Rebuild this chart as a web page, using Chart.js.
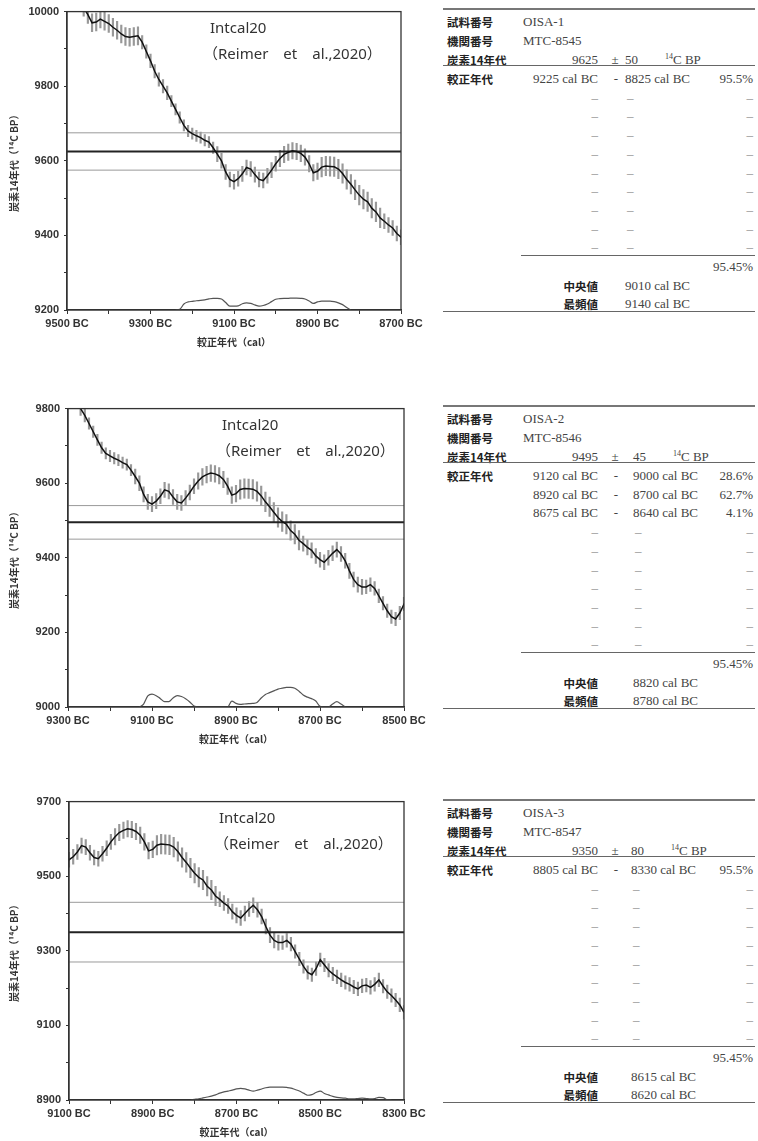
<!DOCTYPE html>
<html>
<head>
<meta charset="utf-8">
<script src="https://cdn.jsdelivr.net/npm/chart.js"></script>
<style>
html, body { margin: 0; padding: 0; background: #fff; }
body { width: 758px; height: 1141px; position: relative; overflow: hidden; }
canvas.plot { position: absolute; left: 0; }
.t { position: absolute; white-space: nowrap; line-height: 16px; height: 16px; }
.lab { font-family: 'Noto Sans CJK JP', sans-serif; font-weight: 700; font-size: 11.5px; color: #222; }
.val { font-family: 'Liberation Serif', 'Times New Roman', serif; font-size: 13px; color: #444; }
.dash { font-family: 'Liberation Serif', serif; font-size: 13px; color: #888; }
.val sup { font-size: 8px; vertical-align: 5px; line-height: 0; }
.rule { position: absolute; height: 0; }
</style>
</head>
<body>
<canvas id="c1" class="plot" width="430" height="352"></canvas>
<canvas id="c2" class="plot" width="430" height="352"></canvas>
<canvas id="c3" class="plot" width="430" height="352"></canvas>

<script>
// IntCal20 curve (cal BC, 14C BP, 1 sigma)
var curveYears = [
    9500, 9490, 9480, 9470, 9460, 9450, 9440, 9430, 9420, 9410,
    9400, 9390, 9380, 9370, 9360, 9350, 9340, 9330, 9320, 9310,
    9300, 9290, 9280, 9270, 9260, 9250, 9240, 9230, 9220, 9210,
    9200, 9190, 9180, 9170, 9160, 9150, 9140, 9130, 9120, 9110,
    9100, 9090, 9080, 9070, 9060, 9050, 9040, 9030, 9020, 9010,
    9000, 8990, 8980, 8970, 8960, 8950, 8940, 8930, 8920, 8910,
    8900, 8890, 8880, 8870, 8860, 8850, 8840, 8830, 8820, 8810,
    8800, 8790, 8780, 8770, 8760, 8750, 8740, 8730, 8720, 8710,
    8700, 8690, 8680, 8670, 8660, 8650, 8640, 8630, 8620, 8610,
    8600, 8590, 8580, 8570, 8560, 8550, 8540, 8530, 8520, 8510,
    8500, 8490, 8480, 8470, 8460, 8450, 8440, 8430, 8420, 8410,
    8400, 8390, 8380, 8370, 8360, 8350, 8340, 8330, 8320, 8310,
    8300
];
var curveC14 = [
    10070, 10055, 10040, 10025, 10010, 9992, 9970, 9972, 9980, 9974,
    9968, 9958, 9950, 9940, 9933, 9931, 9933, 9935, 9918, 9893,
    9868, 9840, 9818, 9800, 9782, 9760, 9738, 9716, 9695, 9680,
    9673, 9667, 9662, 9655, 9650, 9635, 9618, 9600, 9570, 9550,
    9544, 9552, 9565, 9582, 9578, 9563, 9550, 9547, 9560, 9575,
    9592, 9606, 9617, 9623, 9627, 9625, 9620, 9610, 9592, 9568,
    9572, 9583, 9586, 9585, 9584, 9578, 9566, 9550, 9537, 9522,
    9508, 9497, 9490, 9473, 9463, 9447, 9438, 9428, 9420, 9405,
    9395, 9388, 9400, 9412, 9422, 9410, 9392, 9365, 9342, 9328,
    9322, 9322, 9328, 9318, 9298, 9278, 9258, 9242, 9236, 9252,
    9276, 9262, 9248, 9238, 9230, 9222, 9215, 9210, 9203, 9198,
    9206, 9208, 9202, 9210, 9222, 9205, 9190, 9180, 9168, 9155,
    9135
];
var curveErr = [
    22, 22, 22, 22, 22, 24, 24, 24, 24, 24,
    24, 24, 24, 24, 24, 24, 24, 24, 18, 18,
    18, 18, 18, 18, 18, 15, 15, 15, 15, 15,
    15, 15, 15, 15, 15, 15, 20, 20, 20, 20,
    20, 20, 20, 20, 20, 20, 20, 20, 20, 20,
    20, 22, 22, 22, 22, 22, 22, 22, 22, 22,
    22, 26, 26, 26, 26, 26, 26, 26, 26, 26,
    26, 26, 26, 26, 26, 26, 20, 20, 20, 20,
    20, 20, 20, 20, 20, 20, 20, 20, 20, 20,
    20, 18, 18, 18, 18, 18, 18, 18, 18, 18,
    18, 18, 18, 18, 18, 18, 18, 18, 18, 18,
    18, 18, 18, 18, 18, 18, 18, 18, 18, 18,
    18
];

// calibrated probability per 10-year step (%)
var probYears1 = [
    9240, 9230, 9220, 9210, 9200, 9190, 9180, 9170, 9160, 9150,
    9140, 9130, 9120, 9110, 9100, 9090, 9080, 9070, 9060, 9050,
    9040, 9030, 9020, 9010, 9000, 8990, 8980, 8970, 8960, 8950,
    8940, 8930, 8920, 8910, 8900, 8890, 8880, 8870, 8860, 8850,
    8840, 8830, 8820
];
var probValues1 = [
    0, 0.2, 2.0, 2.7, 2.9, 3.1, 3.2, 3.4, 3.7, 3.9,
    3.9, 3.7, 2.5, 1.3, 1.3, 1.4, 2.1, 2.4, 2.2, 1.7,
    1.3, 1.5, 2.0, 2.8, 3.6, 3.8, 3.9, 3.9, 4.0, 4.0,
    3.9, 3.7, 3.0, 2.2, 2.7, 3.0, 3.0, 3.0, 2.8, 2.4,
    1.8, 0.8, 0
];
var probYears2 = [
    9130, 9120, 9110, 9100, 9090, 9080, 9070, 9060, 9050, 9040,
    9030, 9020, 9010, 9000, 8990, 8920, 8910, 8900, 8890, 8880,
    8870, 8860, 8850, 8840, 8830, 8820, 8810, 8800, 8790, 8780,
    8770, 8760, 8750, 8740, 8730, 8720, 8710, 8700, 8690, 8680,
    8670, 8660, 8650, 8640
];
var probValues2 = [
    0, 1.0, 3.7, 4.3, 3.8, 2.8, 1.8, 1.8, 3.0, 3.8,
    3.5, 2.8, 1.7, 0.3, 0, 0, 2.0, 1.2, 0.9, 1.0,
    1.1, 1.2, 1.5, 3.0, 4.2, 4.8, 5.4, 6.0, 6.3, 6.6,
    6.6, 6.3, 5.3, 4.0, 3.3, 2.8, 2.0, 0.2, 0, 0,
    1.0, 1.8, 1.0, 0
];
var probYears3 = [
    8810, 8800, 8790, 8780, 8770, 8760, 8750, 8740, 8730, 8720,
    8710, 8700, 8690, 8680, 8670, 8660, 8650, 8640, 8630, 8620,
    8610, 8600, 8590, 8580, 8570, 8560, 8550, 8540, 8530, 8520,
    8510, 8500, 8490, 8480, 8470, 8460, 8450, 8440, 8430, 8420,
    8410, 8400, 8390, 8380, 8370, 8360, 8350, 8340, 8330
];
var probValues3 = [
    0, 0.2, 0.4, 0.7, 1.0, 1.3, 1.7, 2.3, 2.7, 3.0,
    3.3, 3.7, 3.9, 3.7, 3.3, 3.0, 3.3, 3.7, 4.1, 4.3,
    4.3, 4.3, 4.3, 4.2, 4.0, 3.5, 3.0, 2.3, 1.6, 1.8,
    2.5, 3.0, 2.2, 1.7, 1.2, 0.9, 0.7, 0.6, 0.4, 0.4,
    0.5, 0.6, 0.5, 0.4, 0.5, 0.9, 0.8, 0.1, 0
];

// samples
var sampleIds = ['OISA-1', 'OISA-2', 'OISA-3'];
var labCodes = ['MTC-8545', 'MTC-8546', 'MTC-8547'];
var c14Ages = [9625, 9495, 9350];
var c14Errors = [50, 45, 80];
var calRanges = [
    [['9225', '8825', '95.5%']],
    [['9120', '9000', '28.6%'], ['8920', '8700', '62.7%'], ['8675', '8640', '4.1%']],
    [['8805', '8330', '95.5%']]
];
var totalProb = '95.45%';
var medians = ['9010', '8820', '8615'];
var modes = ['9140', '8780', '8620'];

// axis ranges
var xMins = [8700, 8500, 8300];
var xMaxs = [9500, 9300, 9100];
var yMins = [9200, 9000, 8900];
var yMaxs = [10000, 9800, 9700];

var noteTitle = 'Intcal20';
var noteRef = '（Reimer　et　al.,2020）';
var xTitle = '較正年代（cal）';
var yTitle = '炭素14年代（¹⁴C BP）';

// page layout of each panel
var layouts = [
    { top: 0,   plotLeft: 67, plotRight: 401, dx1: 143, dx2: 136, tableTop: 9,   colD: 625 },
    { top: 397, plotLeft: 68, plotRight: 404, dx1: 154, dx2: 148, tableTop: 406, colD: 633 },
    { top: 790, plotLeft: 69, plotRight: 404, dx1: 150, dx2: 145, tableTop: 800, colD: 631 }
];

Chart.defaults.font.family = "'Liberation Sans', Arial, sans-serif";
Chart.defaults.color = '#333';

var notePlugin = {
    id: 'note',
    afterDraw: function(chart, args, opts) {
        var ctx = chart.ctx, a = chart.chartArea;
        ctx.save();
        ctx.strokeStyle = '#333';
        ctx.lineWidth = 1.3;
        ctx.strokeRect(a.left, a.top, a.right - a.left, a.bottom - a.top);
        ctx.fillStyle = '#333';
        ctx.textBaseline = 'middle';
        ctx.font = "15px 'Noto Sans', 'Noto Sans CJK JP', sans-serif";
        ctx.fillText(noteTitle, a.left + opts.dx1, a.top + 17);
        ctx.fillText(noteRef, a.left + opts.dx2, a.top + 43);
        ctx.restore();
    }
};

function makeChart(k) {
    var L = layouts[k];
    var canvas = document.getElementById('c' + (k + 1));
    canvas.style.top = L.top + 'px';
    var xMin = xMins[k], xMax = xMaxs[k], yMin = yMins[k], yMax = yMaxs[k];
    var age = c14Ages[k], err = c14Errors[k];
    var pYears = [probYears1, probYears2, probYears3][k];
    var pVals = [probValues1, probValues2, probValues3][k];

    var curve = curveYears.map(function(yr, i) { return { x: yr, y: curveC14[i] }; });
    var bars = curveYears.map(function(yr, i) {
        return { x: yr, y: [curveC14[i] - curveErr[i], curveC14[i] + curveErr[i]] };
    });
    var prob = pYears.map(function(yr, i) { return { x: yr, y: pVals[i] }; });
    function hline(v) { return [{ x: xMin, y: v }, { x: xMax, y: v }]; }

    var titleFont = { family: "'Noto Sans CJK JP', sans-serif", size: 10, weight: 'bold' };
    var tickFont = { size: 11, weight: 'bold' };

    return new Chart(canvas, {
        type: 'line',
        data: {
            datasets: [
                { type: 'bar', data: bars, backgroundColor: 'rgba(50,50,50,0.5)', barThickness: 1.5, order: 6 },
                { data: curve, borderColor: '#111', borderWidth: 1.5, pointRadius: 0, order: 1 },
                { data: hline(age + err), borderColor: '#9a9a9a', borderWidth: 1, pointRadius: 0, order: 4 },
                { data: hline(age - err), borderColor: '#9a9a9a', borderWidth: 1, pointRadius: 0, order: 4 },
                { data: hline(age), borderColor: '#222', borderWidth: 2, pointRadius: 0, order: 2 },
                { data: prob, yAxisID: 'yp', borderColor: '#555', borderWidth: 1.2, pointRadius: 0,
                  cubicInterpolationMode: 'monotone', order: 3 }
            ]
        },
        options: {
            responsive: false,
            animation: false,
            layout: { padding: { top: 9, right: 430 - L.plotRight, left: 4, bottom: 0 } },
            plugins: {
                legend: { display: false },
                tooltip: { enabled: false },
                note: { dx1: L.dx1, dx2: L.dx2 }
            },
            scales: {
                x: {
                    type: 'linear',
                    reverse: true,
                    offset: false,
                    min: xMin,
                    max: xMax,
                    afterFit: function(s) { s.height = 42; },
                    ticks: {
                        stepSize: 100, autoSkip: false, maxRotation: 0, padding: 3,
                        color: '#333', font: tickFont,
                        callback: function(v) { return (v - xMin) % 200 === 0 ? v + ' BC' : ''; }
                    },
                    grid: { offset: false, drawOnChartArea: false, tickLength: 4, color: '#333' },
                    border: { color: '#333', width: 1.3 },
                    title: { display: true, text: xTitle, color: '#333', font: titleFont, padding: { top: 0, bottom: 4 } }
                },
                y: {
                    min: yMin,
                    max: yMax,
                    afterFit: function(s) { s.width = L.plotLeft - 4; },
                    ticks: {
                        stepSize: 100, autoSkip: false, padding: 5,
                        color: '#333', font: tickFont,
                        callback: function(v) { return (v - yMin) % 200 === 0 ? String(v) : ''; }
                    },
                    grid: { drawOnChartArea: false, tickLength: 3, color: '#333' },
                    border: { color: '#333', width: 1.3 },
                    title: { display: true, text: yTitle, color: '#333', font: titleFont, padding: { top: 4, bottom: 0 } }
                },
                yp: { display: false, min: 0, max: 100 }
            }
        },
        plugins: [notePlugin]
    });
}

// tables on the right
function put(cls, html, x, y, align) {
    var d = document.createElement('div');
    d.className = 't ' + cls;
    d.innerHTML = html;
    d.style.top = (y - 8) + 'px';
    if (align === 'right') {
        d.style.right = (758 - x) + 'px';
    } else if (align === 'center') {
        d.style.left = x + 'px';
        d.style.transform = 'translateX(-50%)';
    } else {
        d.style.left = x + 'px';
    }
    document.body.appendChild(d);
}

function rule(x1, x2, y, w, color) {
    var d = document.createElement('div');
    d.className = 'rule';
    d.style.left = x1 + 'px';
    d.style.width = (x2 - x1) + 'px';
    d.style.top = y + 'px';
    d.style.borderTop = w + 'px solid ' + color;
    document.body.appendChild(d);
}

function makeTable(k) {
    var L = layouts[k];
    var T = L.tableTop, D = L.colD;
    var labX = 447, bRight = 598, cMid = 616, eRight = 753;

    rule(443, 755, T - 1, 2, '#777');
    put('lab', '試料番号', labX, T + 13.3);
    put('val', sampleIds[k], 523, T + 13.3);
    put('lab', '機関番号', labX, T + 32.3);
    put('val', labCodes[k], 523, T + 32.3);
    put('lab', '炭素14年代', labX, T + 51.3);
    put('val', String(c14Ages[k]), bRight, T + 51.3, 'right');
    put('val', '±', cMid - 1, T + 51.3, 'center');
    put('val', String(c14Errors[k]), D, T + 51.3);
    put('val', '<sup>14</sup>C BP', D + 40, T + 51.3);
    rule(443, 755, T + 56, 1.5, '#666');

    put('lab', '較正年代', labX, T + 70);
    for (var i = 0; i < 10; i++) {
        var y = T + 70 + i * 18.7;
        var r = calRanges[k][i];
        if (r) {
            put('val', r[0] + ' cal BC', bRight, y, 'right');
            put('val', '-', cMid, y, 'center');
            put('val', r[1] + ' cal BC', D, y);
            put('val', r[2], eRight, y, 'right');
        } else {
            put('dash', '–', bRight, y, 'right');
            put('dash', '–', D + 2, y);
            put('dash', '–', eRight, y, 'right');
        }
    }
    rule(521, 755, T + 245.5, 1.5, '#666');
    put('val', totalProb, eRight, T + 258, 'right');
    put('lab', '中央値', bRight, T + 276.5, 'right');
    put('val', medians[k] + ' cal BC', D, T + 276.5);
    put('lab', '最頻値', bRight, T + 295, 'right');
    put('val', modes[k] + ' cal BC', D, T + 295);
    rule(443, 755, T + 302, 1.5, '#666');
}

for (var k = 0; k < 3; k++) {
    makeChart(k);
    makeTable(k);
}
</script>
</body>
</html>
